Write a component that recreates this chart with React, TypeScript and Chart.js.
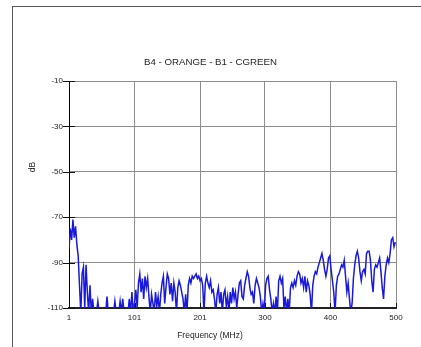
import React, { useEffect, useRef } from "react";
import { Chart, registerables } from "chart.js";

Chart.register(...registerables);

const TITLE = "B4 - ORANGE - B1 - CGREEN";
const Y_LABEL = "dB";
const X_LABEL = "Frequency (MHz)";
const X_TICKS = [1, 101, 201, 300, 400, 500];
const Y_TICKS = [-10, -30, -50, -70, -90, -110];
const FREQ_START = 1;
const FREQ_STEP = 2;
// level (dB) read every 2 MHz from 1 MHz; values below -110 are off the chart
const LEVELS = [
  -84, -75, -80, -71, -79, -74, -82, -87, -100, -112,
  -95, -92, -110, -91, -103, -112, -100, -112, -106, -112,
  -112, -112, -107, -112, -112, -112, -112, -112, -112, -105,
  -112, -112, -112, -112, -112, -107, -112, -112, -112, -107,
  -112, -106, -112, -112, -112, -112, -106, -112, -103, -112,
  -108, -102, -110, -99, -95, -103, -97, -106, -96, -101,
  -97, -105, -112, -104, -108, -112, -103, -109, -105, -112,
  -104, -99, -96, -108, -101, -95, -97, -104, -99, -107,
  -99, -103, -112, -101, -98, -100, -103, -106, -112, -104,
  -112, -100, -97, -99, -96, -97, -96, -95, -97, -96,
  -98, -97, -100, -112, -99, -96, -99, -101, -98, -103,
  -102, -106, -112, -104, -101, -108, -103, -112, -104, -102,
  -109, -105, -112, -103, -108, -101, -106, -103, -110, -104,
  -99, -98, -105, -106, -100, -97, -94, -96, -101, -104,
  -103, -108, -100, -97, -99, -101, -105, -112, -108, -112,
  -100, -97, -96, -102, -106, -112, -108, -112, -105, -112,
  -98, -96, -99, -97, -110, -105, -112, -106, -112, -101,
  -99, -101, -98, -100, -96, -94, -95, -99, -97, -101,
  -96, -103, -98, -100, -104, -112, -100, -96, -94, -95,
  -92, -90, -88, -86, -89, -93, -96, -93, -88, -87,
  -93, -98, -103, -112, -100, -96, -95, -93, -91, -92,
  -89, -96, -103, -99, -106, -112, -108, -97, -91, -87,
  -85, -88, -94, -98, -94, -93, -95, -86, -85, -85,
  -89, -98, -103, -93, -91, -92, -90, -88, -94, -101,
  -106, -96, -91, -88, -90, -86, -80, -79, -83, -81,
];

const FONT = "'Liberation Sans', Arial, sans-serif";
const TEXT = "#222";
const GRID = "#8c8c8c";

const decorPlugin = {
  id: "decor",
  afterDraw(chart: any) {
    const { ctx, chartArea, scales } = chart;
    ctx.save();
    ctx.strokeStyle = "#111";
    ctx.lineWidth = 1;
    Y_TICKS.forEach((v) => {
      const y = Math.round(scales.y.getPixelForValue(v)) + 0.5;
      ctx.beginPath();
      ctx.moveTo(chartArea.left - 6, y);
      ctx.lineTo(chartArea.left + 6, y);
      ctx.stroke();
    });
    X_TICKS.forEach((v) => {
      const x = Math.round(scales.x.getPixelForValue(v)) + 0.5;
      ctx.beginPath();
      ctx.moveTo(x, chartArea.bottom);
      ctx.lineTo(x, chartArea.bottom - 5);
      ctx.stroke();
    });
    ctx.fillStyle = TEXT;
    ctx.textAlign = "center";
    ctx.textBaseline = "middle";
    ctx.font = `8.5px ${FONT}`;
    ctx.fillText(X_LABEL, 210, 336);
    ctx.translate(33, 167);
    ctx.rotate(-Math.PI / 2);
    ctx.fillText(Y_LABEL, 0, 0);
    ctx.restore();
  },
};

export default function App() {
  const ref = useRef<HTMLCanvasElement>(null);
  useEffect(() => {
    if (!ref.current) return;
    const points = LEVELS.map((v, i) => ({ x: FREQ_START + i * FREQ_STEP, y: v }));
    const chart = new Chart(ref.current, {
      type: "line",
      data: {
        datasets: [
          {
            data: points,
            borderColor: "rgb(25,25,215)",
            borderWidth: 1.5,
            pointRadius: 0,
            tension: 0,
            clip: 0,
          },
        ],
      },
      options: {
        animation: false,
        responsive: false,
        layout: { padding: 0 },
        plugins: {
          legend: { display: false },
          tooltip: { enabled: false },
          title: {
            display: true,
            text: TITLE,
            color: TEXT,
            font: { family: FONT, size: 9.7, weight: "normal" },
            padding: { top: 57, bottom: 12.4 },
          },
        },
        scales: {
          x: {
            type: "linear",
            min: 1,
            max: 500,
            afterBuildTicks: (s: any) => {
              s.ticks = X_TICKS.map((v) => ({ value: v }));
            },
            afterFit: (s: any) => {
              s.height = 39;
            },
            grid: { color: GRID, lineWidth: 1, drawTicks: false },
            border: { display: true, color: "#222", width: 2 },
            ticks: {
              color: TEXT,
              font: { family: FONT, size: 8 },
              padding: 5,
              maxRotation: 0,
              autoSkip: false,
              callback: (v: any) => String(v),
            },
          },
          y: {
            type: "linear",
            min: -110,
            max: -10,
            afterBuildTicks: (s: any) => {
              s.ticks = Y_TICKS.map((v) => ({ value: v }));
            },
            afterFit: (s: any) => {
              s.width = 69;
            },
            grid: { color: GRID, lineWidth: 1, drawTicks: false },
            border: { display: true, color: "#000", width: 1 },
            ticks: {
              color: TEXT,
              font: { family: FONT, size: 8 },
              padding: 6,
              callback: (v: any) => String(v),
            },
          },
          yRight: {
            type: "linear",
            position: "right",
            display: true,
            min: 0,
            max: 1,
            grid: { display: false, drawTicks: false },
            border: { display: false },
            ticks: { display: false },
            afterFit: (s: any) => {
              s.width = 25;
            },
          },
        },
      },
      plugins: [decorPlugin],
    });
    return () => chart.destroy();
  }, []);
  return (
    <div style={{ position: "fixed", left: 0, top: 0, width: 421, height: 347, background: "#fff" }}>
      <div
        style={{
          position: "absolute",
          left: 12,
          top: 6,
          width: 409,
          height: 341,
          borderLeft: "1px solid #555",
          borderTop: "1px solid #555",
        }}
      />
      <canvas ref={ref} width={421} height={347} style={{ position: "absolute", left: 0, top: 0 }} />
    </div>
  );
}
